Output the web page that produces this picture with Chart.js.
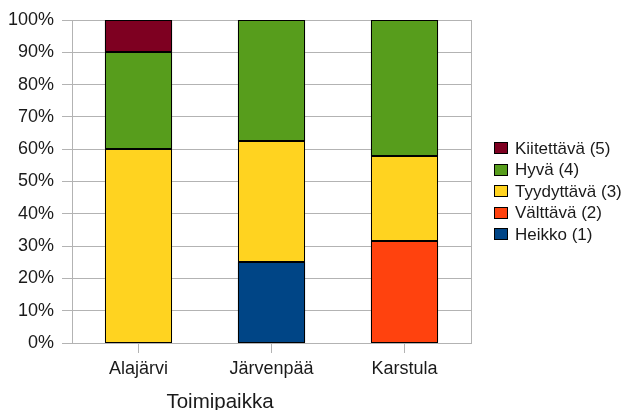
<!DOCTYPE html>
<html>
<head>
<meta charset="utf-8">
<script src="https://cdn.jsdelivr.net/npm/chart.js@4/dist/chart.umd.min.js"></script>
<style>
  body { margin: 0; background: #fff; }
</style>
</head>
<body>
<canvas id="myChart" width="627" height="410"></canvas>
<script>
"use strict";
// toimipaikat ja arvosanojen osuudet (%), null = ei vastauksia
const paikat = ["Alajärvi", "Järvenpää", "Karstula"];
const heikko = [null, 25, null];
const valttava = [null, null, 31.58];
const tyydyttava = [60, 37.5, 26.32];
const hyva = [30, 37.5, 42.1];
const kiitettava = [10, null, null];
const yTicks = ["0%", "10%", "20%", "30%", "40%", "50%", "60%", "70%", "80%", "90%", "100%"];
const xOtsikko = "Toimipaikka";

const fontti = "'Liberation Sans', Arial, sans-serif";
const viiva = "#b3b3b3";
const teksti = "#1a1a1a";

function sarja(nimi, vari, arvot) {
  return {
    label: nimi,
    data: arvot,
    backgroundColor: vari,
    borderWidth: 0,
    categoryPercentage: 1,
    barPercentage: 0.505
  };
}

// piirtoalueen oikea reuna
const reuna = {
  id: "reuna",
  beforeDatasetsDraw(chart) {
    const a = chart.chartArea;
    const ctx = chart.ctx;
    ctx.save();
    ctx.strokeStyle = viiva;
    ctx.lineWidth = 1;
    ctx.beginPath();
    ctx.moveTo(Math.round(a.right) + 0.5, a.top);
    ctx.lineTo(Math.round(a.right) + 0.5, a.bottom);
    ctx.stroke();
    ctx.restore();
  }
};

// terävät mustat reunaviivat pylväiden osille
const pylvasReunat = {
  id: "pylvasReunat",
  afterDatasetsDraw(chart) {
    const ctx = chart.ctx;
    ctx.save();
    ctx.strokeStyle = "#000";
    ctx.lineWidth = 1;
    chart.data.datasets.forEach((ds, i) => {
      const meta = chart.getDatasetMeta(i);
      meta.data.forEach((el, j) => {
        if (ds.data[j] == null) return;
        const p = el.getProps(["x", "y", "base", "width"], true);
        const l = Math.round(p.x - p.width / 2) + 0.5;
        const r = Math.round(p.x + p.width / 2) - 0.5;
        const t = Math.round(Math.min(p.y, p.base)) + 0.5;
        const b = Math.round(Math.max(p.y, p.base)) - 0.5;
        ctx.strokeRect(l, t, r - l, b - t);
      });
    });
    ctx.restore();
  }
};

// selite oikealle ja x-akselin otsikko alas
const selite = {
  id: "selite",
  afterDraw(chart) {
    const ctx = chart.ctx;
    const sets = chart.data.datasets.slice().reverse();
    ctx.save();
    ctx.font = "17px " + fontti;
    ctx.textBaseline = "middle";
    sets.forEach((ds, i) => {
      const y = 148 + i * 21.5;
      const yy = Math.round(y - 6) + 0.5;
      ctx.fillStyle = ds.backgroundColor;
      ctx.fillRect(494.5, yy, 13, 11);
      ctx.strokeStyle = "#000";
      ctx.lineWidth = 1;
      ctx.strokeRect(494.5, yy, 13, 11);
      ctx.fillStyle = teksti;
      ctx.fillText(ds.label, 515, y + 1);
    });

    ctx.font = "20.5px " + fontti;
    ctx.textAlign = "center";
    ctx.textBaseline = "alphabetic";
    ctx.fillText(xOtsikko, 220, 408);
    ctx.restore();
  }
};

const config = {
  type: "bar",
  data: {
    labels: paikat,
    datasets: [
      sarja("Heikko (1)", "#004586", heikko),
      sarja("Välttävä (2)", "#ff420e", valttava),
      sarja("Tyydyttävä (3)", "#ffd320", tyydyttava),
      sarja("Hyvä (4)", "#579d1c", hyva),
      sarja("Kiitettävä (5)", "#7e0021", kiitettava)
    ]
  },
  options: {
    responsive: false,
    animation: false,
    layout: { padding: { top: 20, right: 156, left: 0, bottom: 0 } },
    scales: {
      x: {
        stacked: true,
        grid: { display: true, drawOnChartArea: false, offset: false, color: viiva, tickLength: 10 },
        border: { color: viiva },
        ticks: { color: teksti, font: { family: fontti, size: 18 }, padding: 5 },
        afterFit(scale) { scale.height = 67; }
      },
      y: {
        stacked: true,
        min: 0,
        max: 100,
        grid: { color: viiva, tickLength: 10 },
        border: { color: viiva },
        ticks: {
          stepSize: 10,
          color: teksti,
          font: { family: fontti, size: 18 },
          padding: 8,
          callback: (v) => yTicks[Math.round(v / 10)]
        },
        afterFit(scale) { scale.width = 72; }
      }
    },
    plugins: {
      legend: { display: false },
      tooltip: { enabled: false }
    }
  },
  plugins: [reuna, pylvasReunat, selite]
};

let myChart = new Chart(document.getElementById("myChart"), config);
</script>
</body>
</html>
